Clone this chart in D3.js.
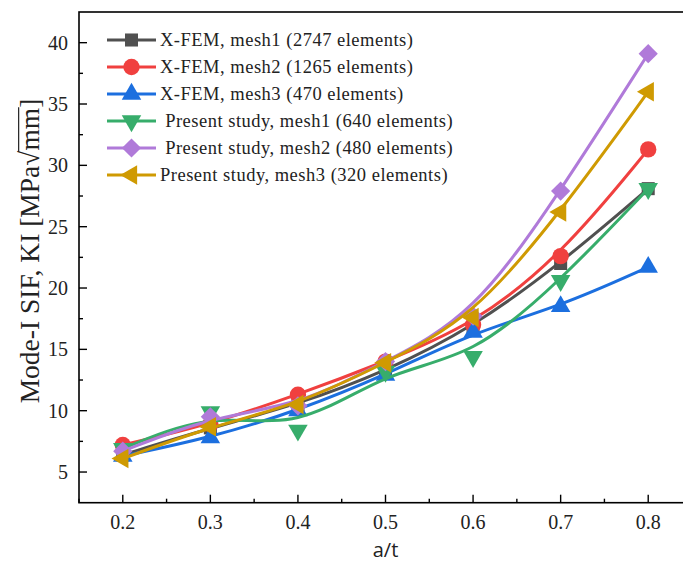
<!DOCTYPE html>
<html>
<head>
<meta charset="utf-8">
<script src="https://cdn.jsdelivr.net/npm/d3@7/dist/d3.min.js"></script>
<style>
  html, body { margin: 0; padding: 0; background: #fff; }
  svg { display: block; }
</style>
</head>
<body>
<svg id="chart" width="683" height="568"></svg>
<script>
// crack depth ratio a/t
const ratios = [0.2, 0.3, 0.4, 0.5, 0.6, 0.7, 0.8];

// Mode-I stress intensity factor for each mesh
const xfemMesh1 = [6.4, 8.6, 10.5, 13.2, 16.8, 22.0, 28.1];
const xfemMesh2 = [7.2, 8.9, 11.3, 14.0, 17.0, 22.6, 31.3];
const xfemMesh3 = [6.3, 7.8, 10.0, 12.9, 16.4, 18.5, 21.7];
const presentMesh1 = [6.9, 9.9, 8.4, 13.2, 14.4, 20.6, 28.1];
const presentMesh2 = [6.7, 9.5, 10.4, 14.0, 17.7, 27.9, 39.1];
const presentMesh3 = [6.1, 8.7, 10.5, 13.9, 17.6, 26.2, 36.0];

const seriesNames = [
  "X-FEM, mesh1 (2747 elements)",
  "X-FEM, mesh2 (1265 elements)",
  "X-FEM, mesh3 (470 elements)",
  " Present study, mesh1 (640 elements)",
  " Present study, mesh2 (480 elements)",
  "Present study, mesh3 (320 elements)"
];

const xTicks = [0.2, 0.3, 0.4, 0.5, 0.6, 0.7, 0.8];
const yTicks = [5, 10, 15, 20, 25, 30, 35, 40];

const series = [
  { name: seriesNames[0], values: xfemMesh1, color: "#505050", shape: "square" },
  { name: seriesNames[1], values: xfemMesh2, color: "#f0403f", shape: "circle" },
  { name: seriesNames[2], values: xfemMesh3, color: "#1c6fdf", shape: "up" },
  { name: seriesNames[3], values: presentMesh1, color: "#37ad6b", shape: "down" },
  { name: seriesNames[4], values: presentMesh2, color: "#b07ad9", shape: "diamond" },
  { name: seriesNames[5], values: presentMesh3, color: "#cf9a02", shape: "left" }
];

const svg = d3.select("#chart");
const plotLeft = 79, plotRight = 692, plotTop = 12, plotBottom = 502.7;

const x = d3.scaleLinear().domain([0.15, 0.85]).range([plotLeft, plotRight]);
const y = d3.scaleLinear().domain([2.5, 42.5]).range([plotBottom, plotTop]);

const serif = "'Liberation Serif', 'DejaVu Serif', serif";

// marker generator: shape name -> path + rotation
function markerPath(shape) {
  if (shape === "square") return { d: d3.symbol(d3.symbolSquare, 170)(), rot: 0 };
  if (shape === "circle") return { d: d3.symbol(d3.symbolCircle, 210)(), rot: 0 };
  if (shape === "up") return { d: d3.symbol(d3.symbolTriangle, 165)(), rot: 0 };
  if (shape === "down") return { d: d3.symbol(d3.symbolTriangle, 165)(), rot: 180 };
  if (shape === "left") return { d: d3.symbol(d3.symbolTriangle, 165)(), rot: -90 };
  if (shape === "diamond") return { d: d3.symbol(d3.symbolSquare, 185)(), rot: 45 };
}

// plot frame
svg.append("rect")
  .attr("x", plotLeft).attr("y", plotTop)
  .attr("width", plotRight - plotLeft).attr("height", plotBottom - plotTop)
  .attr("fill", "none").attr("stroke", "#000").attr("stroke-width", 1.6);

// ticks drawn inward
const xMinor = d3.range(0.15, 0.851, 0.1);
const yMinor = d3.range(7.5, 42.5, 5);

svg.append("g").selectAll("line").data(xTicks).join("line")
  .attr("x1", d => x(d)).attr("x2", d => x(d))
  .attr("y1", plotBottom).attr("y2", plotBottom - 8)
  .attr("stroke", "#000").attr("stroke-width", 1.4);
svg.append("g").selectAll("line").data(xMinor).join("line")
  .attr("x1", d => x(d)).attr("x2", d => x(d))
  .attr("y1", plotBottom).attr("y2", plotBottom - 4)
  .attr("stroke", "#000").attr("stroke-width", 1.4);
svg.append("g").selectAll("line").data(yTicks).join("line")
  .attr("x1", plotLeft).attr("x2", plotLeft + 8)
  .attr("y1", d => y(d)).attr("y2", d => y(d))
  .attr("stroke", "#000").attr("stroke-width", 1.4);
svg.append("g").selectAll("line").data(yMinor).join("line")
  .attr("x1", plotLeft).attr("x2", plotLeft + 4)
  .attr("y1", d => y(d)).attr("y2", d => y(d))
  .attr("stroke", "#000").attr("stroke-width", 1.4);

// tick labels
svg.append("g").selectAll("text").data(xTicks).join("text")
  .attr("x", d => x(d)).attr("y", 529)
  .attr("text-anchor", "middle")
  .attr("font-family", serif).attr("font-size", 20).attr("fill", "#222")
  .text(d => d.toFixed(1));
svg.append("g").selectAll("text").data(yTicks).join("text")
  .attr("x", 68).attr("y", d => y(d) + 7)
  .attr("text-anchor", "end")
  .attr("font-family", serif).attr("font-size", 20).attr("fill", "#222")
  .text(d => d);

// axis titles
svg.append("text")
  .attr("x", x(0.5)).attr("y", 557)
  .attr("text-anchor", "middle")
  .attr("font-family", "'Open Sans', 'Noto Sans', sans-serif").attr("font-size", 20).attr("fill", "#222")
  .text("a/t");

const yTitleSize = 27.5;
const yTitleG = svg.append("g").attr("transform", "translate(39,251) rotate(-90)");
const yTitle = yTitleG.append("text")
  .attr("text-anchor", "middle")
  .attr("font-family", serif).attr("font-size", yTitleSize).attr("fill", "#222");
yTitle.append("tspan").text("Mode-I SIF, KI [MPa\u221A");
yTitle.append("tspan").text("mm");
yTitle.append("tspan").text("]");

// radical bar over "mm"
{
  const n = "Mode-I SIF, KI [MPa\u221A".length;
  const node = yTitle.node();
  const rootStart = node.getStartPositionOfChar(n - 1);
  const rootEnd = node.getEndPositionOfChar(n - 1);
  const mmEnd = node.getEndPositionOfChar(n + 1);
  const barY = rootStart.y - 0.74 * yTitleSize;
  yTitleG.append("line")
    .attr("x1", rootEnd.x - 1.5).attr("x2", mmEnd.x + 0.5)
    .attr("y1", barY).attr("y2", barY)
    .attr("stroke", "#222").attr("stroke-width", 1.2);
}

// series: spline line then markers
const line = d3.line()
  .x((d, i) => x(ratios[i]))
  .y(d => y(d))
  .curve(d3.curveBasis);

series.forEach(s => {
  const g = svg.append("g");
  g.append("path")
    .attr("d", line(s.values))
    .attr("fill", "none").attr("stroke", s.color).attr("stroke-width", 3);
  const m = markerPath(s.shape);
  g.selectAll("path.m").data(s.values).join("path")
    .attr("class", "m")
    .attr("d", m.d)
    .attr("transform", (d, i) => `translate(${x(ratios[i])},${y(d)}) rotate(${m.rot})`)
    .attr("fill", s.color);
});

// legend
const legend = svg.append("g");
series.forEach((s, i) => {
  const cy = 40 + i * 27;
  legend.append("line")
    .attr("x1", 107).attr("x2", 156)
    .attr("y1", cy).attr("y2", cy)
    .attr("stroke", s.color).attr("stroke-width", 3);
  const m = markerPath(s.shape);
  legend.append("path")
    .attr("d", m.d)
    .attr("transform", `translate(131.5,${cy}) rotate(${m.rot})`)
    .attr("fill", s.color);
  legend.append("text")
    .attr("x", 160).attr("y", cy + 6)
    .attr("xml:space", "preserve")
    .style("white-space", "pre")
    .attr("letter-spacing", 0.5)
    .attr("font-family", serif).attr("font-size", 18.5).attr("fill", "#222")
    .text(s.name);
});
</script>
</body>
</html>
